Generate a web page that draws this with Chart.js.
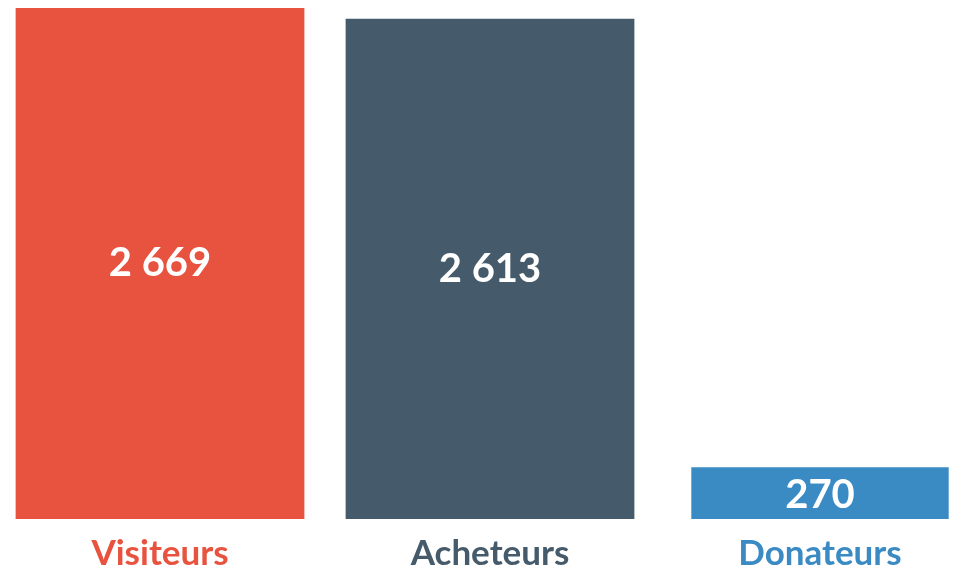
<!DOCTYPE html>
<html>
<head>
<meta charset="utf-8">
<script src="https://cdn.jsdelivr.net/npm/chart.js@4"></script>
<style>
  html, body { margin: 0; padding: 0; background: #fff; overflow: hidden; }
  #wrap { width: 990px; height: 571px; margin-left: -5px; }
</style>
</head>
<body>
<div id="wrap"><canvas id="myChart"></canvas></div>
<script>
// Données du graphique
const categories = ['Visiteurs', 'Acheteurs', 'Donateurs'];
const values = [2669, 2613, 270];
const valueLabels = ['2 669', '2 613', '270'];
const barColors = ['#E8533F', '#455B6B', '#3A8AC4'];

// Texte blanc au centre de chaque barre
const valuePlugin = {
    id: 'valuePlugin',
    afterDatasetsDraw(chart) {
        const ctx = chart.ctx;
        ctx.save();
        ctx.fillStyle = '#fff';
        ctx.font = 'bold 40px Lato';
        ctx.textAlign = 'center';
        ctx.textBaseline = 'middle';
        chart.data.datasets.forEach(function (ds, d) {
            chart.getDatasetMeta(d).data.forEach(function (bar, i) {
                if (ds.data[i] == null) return;
                const y = (bar.y + bar.base) / 2 + (i === 2 ? 2 : 0);
                ctx.fillText(valueLabels[i], bar.x, y);
            });
        });
        ctx.restore();
    }
};

function chart() {
    const ctx = document.getElementById('myChart').getContext('2d');
    // deux jeux : les grandes barres et la petite (plus étroite)
    const bigValues = values.map(function (v, i) { return i < 2 ? v : null; });
    const smallValues = values.map(function (v, i) { return i === 2 ? v : null; });
    new Chart(ctx, {
        type: 'bar',
        data: {
            labels: categories,
            datasets: [
                {
                    data: bigValues,
                    backgroundColor: barColors,
                    borderWidth: 0,
                    barPercentage: 0.875,
                    categoryPercentage: 1
                },
                {
                    data: smallValues,
                    backgroundColor: barColors,
                    borderWidth: 0,
                    barPercentage: 0.78,
                    categoryPercentage: 1
                }
            ]
        },
        options: {
            responsive: true,
            maintainAspectRatio: false,
            animation: false,
            grouped: false,
            layout: { padding: { top: 8, left: 0, right: 0, bottom: -17 } },
            plugins: {
                legend: { display: false },
                tooltip: { enabled: false }
            },
            scales: {
                x: {
                    grid: { display: false, drawTicks: false },
                    border: { display: false },
                    ticks: {
                        padding: 17,
                        font: { family: 'Lato', weight: 'bold', size: 35, lineHeight: 1 },
                        color: function (c) { return barColors[c.index]; }
                    }
                },
                y: {
                    display: false,
                    min: 0,
                    max: 2669
                }
            }
        },
        plugins: [valuePlugin]
    });
}

window.addEventListener('load', chart);
</script>
</body>
</html>
